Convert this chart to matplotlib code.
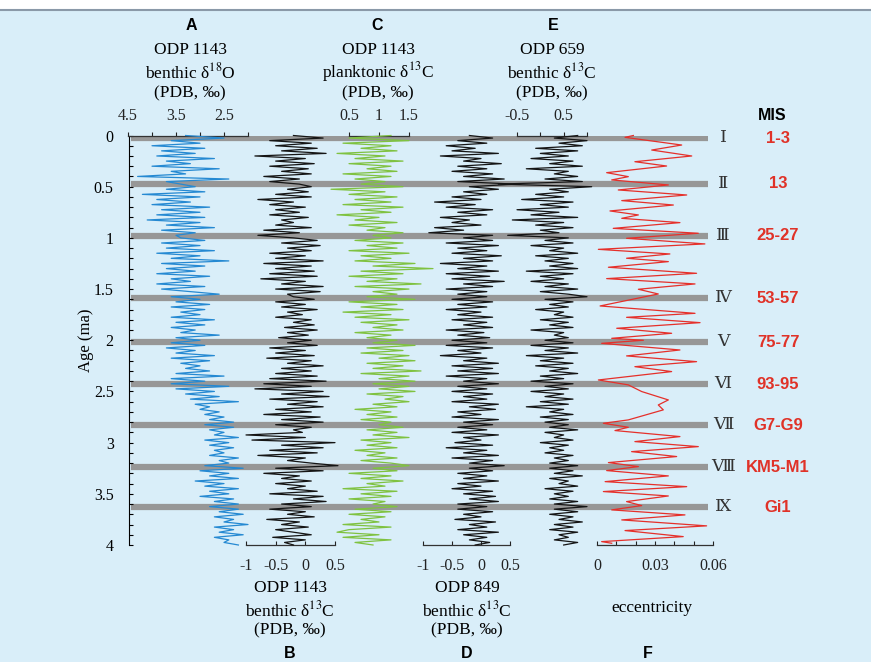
import numpy as np
import matplotlib
matplotlib.use("Agg")
import matplotlib.pyplot as plt
from matplotlib.ticker import FixedLocator, MultipleLocator

plt.rcParams['font.family'] = ['Liberation Serif', 'DejaVu Serif']
plt.rcParams['mathtext.fontset'] = 'stix'

# ---- data (0.025 Ma steps for the isotope records) ----
d18o_1143 = [3.3, 2.5, 3.6, 3.0, 4.0, 2.9, 3.8, 3.1, 3.9, 2.7, 3.7, 3.2, 4.0, 2.6, 3.6, 3.3, 4.3, 2.4, 3.7,
             3.4, 3.1, 3.7, 2.9, 4.2, 3.0, 3.9, 3.2, 4.0, 2.8, 3.8, 3.0, 3.9, 2.9, 4.1, 3.0, 3.7, 2.7, 3.8, 3.1, 3.5,
             3.4, 2.9, 3.8, 3.0, 3.7, 2.7, 3.9, 3.0, 3.6, 2.4, 3.8, 2.9, 3.7, 3.1, 3.9, 2.8, 3.6, 3.2, 3.9, 2.9, 3.8, 3.2, 2.6,
             3.6, 3.0, 3.5, 2.8, 3.6, 2.9, 3.4, 3.0, 3.6, 2.7, 3.5, 2.9, 3.6, 3.1, 3.4, 2.6, 3.5, 3.0,
             3.6, 2.9, 3.7, 3.1, 3.5, 2.7, 3.6, 2.8, 3.4, 3.0, 3.3, 2.8, 3.5, 2.5, 3.6, 2.9,
             3.6, 2.4, 3.5, 2.7, 3.3, 2.6, 3.2, 2.2, 3.1, 2.8, 3.0, 2.6, 2.9, 2.5, 2.8, 2.3,
             2.9, 2.3, 2.8, 2.5, 2.7, 2.2, 2.9, 2.4, 2.8, 2.3, 2.7, 2.5, 2.8, 2.2, 2.6, 2.4,
             2.9, 2.1, 3.0, 2.4, 2.8, 2.2, 3.1, 2.5, 2.9, 2.2, 2.8, 2.4, 3.0, 2.3, 2.7, 2.2,
             2.8, 2.2, 2.6, 2.1, 2.7, 2.3, 2.5, 2.0, 2.7, 2.3, 2.6, 2.1, 2.7, 2.4, 2.5, 2.2]

d13c_1143_b = [-0.2, 0.3, -0.6, 0.1, -0.5, 0.2, -0.4, 0.35, -0.85, 0.0, -0.5, 0.15, -0.6, 0.05, -0.4, 0.1, -0.7, -0.1, -0.6,
               -0.1, 0.1, -0.3, 0.05, -0.5, 0.1, -0.8, -0.2, -0.6, 0.0, -0.5, -0.1, -0.6, 0.05, -0.4, -0.2, -0.5, 0.1, -0.7, -0.1, -0.8,
               -0.2, 0.2, -0.4, 0.25, -0.3, 0.1, -0.6, 0.0, -0.5, 0.3, -0.7, 0.1, -0.5, 0.15, -0.6, 0.2, -0.75, 0.0, -0.4, 0.3, -0.5, 0.25, -0.3,
               -0.2, 0.15, -0.5, 0.0, -0.4, 0.2, -0.3, -0.05, -0.5, 0.1, -0.2, 0.15, -0.35, 0.2, -0.3, 0.05, -0.45, 0.1,
               -0.3, 0.2, -0.6, 0.0, -0.5, 0.15, -0.65, 0.1, -0.3, 0.3, -0.4, 0.1, -0.5, 0.2, -0.6, 0.35,
               -0.7, 0.1, -0.85, 0.3, -0.4, 0.4, -0.6, 0.2, -0.3, 0.3, -0.5, 0.1, -0.7, 0.25, -0.4, 0.3,
               -0.5, 0.1, -0.2, -0.05, -1.0, 0.0, -0.9, 0.5, -0.4, 0.3, -0.6, 0.2, -0.8, 0.0, -0.3, 0.1,
               0.55, -0.5, 0.3, -0.7, -0.1, -0.4, 0.1, -0.5, 0.0, -0.3, 0.2, -0.6, 0.3, -0.2, 0.35, -0.4,
               0.1, -0.6, 0.0, -0.3, 0.15, -0.65, -0.1, -0.4, 0.05, -0.5, -0.2, 0.1, -0.55, 0.0, -0.35, -0.2]

d13c_1143_p = [1.2, 0.5, 1.5, 0.4, 1.2, 0.7, 1.3, 0.3, 1.1, 0.6, 1.4, 0.5, 1.2, 0.8, 1.3, 0.4, 1.2, 0.6, 1.1,
               0.7, 1.4, 0.2, 1.1, 0.5, 1.3, 0.6, 1.2, 0.4, 1.4, 0.7, 1.2, 0.3, 1.0, 0.6, 1.3, 0.5, 1.1, 0.8, 1.4, 0.9,
               1.2, 0.6, 1.4, 0.8, 1.3, 0.5, 1.5, 0.7, 1.2, 0.6, 1.6, 0.9, 1.9, 0.7, 1.4, 0.5, 1.3, 0.8, 1.7, 0.6, 1.5, 0.9, 1.3,
               0.8, 1.6, 0.5, 1.3, 0.7, 1.4, 0.4, 1.2, 0.6, 1.5, 0.7, 1.3, 0.9, 1.4, 0.6, 1.2, 0.8, 1.3,
               0.9, 1.6, 0.8, 1.4, 0.7, 1.5, 1.0, 1.6, 0.8, 1.4, 0.9, 1.7, 0.7, 1.5, 1.0, 1.6,
               0.9, 1.5, 1.0, 1.6, 0.8, 1.4, 1.1, 1.5, 0.9, 1.3, 0.6, 1.2, 0.8, 1.3, 0.7, 1.2,
               1.0, 1.4, 0.8, 1.3, 0.9, 1.5, 0.7, 1.2, 0.8, 1.3, 0.6, 1.1, 0.8, 1.3, 0.7, 1.2,
               1.5, 0.9, 1.3, 0.5, 1.2, 0.7, 1.4, 0.8, 1.1, 0.4, 1.3, 0.7, 1.2, 0.5, 1.1, 0.9,
               1.3, 0.6, 1.2, 0.5, 1.1, 0.7, 1.0, 0.4, 1.2, 0.5, 0.3, 1.0, 0.4, 1.2, 0.6, 0.9]

d13c_849 = [-0.2, 0.2, -0.4, 0.1, -0.6, -0.1, -0.5, 0.3, -0.7, 0.0, -0.3, 0.35, -0.4, 0.1, -0.5, 0.2, -0.3, 0.4, -0.4,
            0.6, -0.2, 0.3, -0.3, 0.1, -0.5, 0.0, -0.8, -0.1, -0.6, 0.2, -0.4, 0.1, -0.7, -0.2, -0.5, 0.0, -0.8, -0.3, -0.9, 0.2,
            -0.3, 0.2, -0.6, 0.3, -0.4, 0.1, -0.5, 0.35, -0.3, 0.2, -0.7, 0.1, -0.4, 0.3, -0.6, 0.15, -0.5, 0.4, -0.3, 0.2, -0.6, 0.1, -0.4,
            0.1, -0.5, 0.2, -0.4, 0.1, -0.6, 0.0, -0.4, 0.2, -0.5, 0.1, -0.3, 0.2, -0.6, 0.05, -0.4, 0.15, -0.5,
            0.1, -0.6, 0.2, -0.4, 0.0, -0.7, 0.1, -0.3, 0.3, -0.5, 0.2, -0.4, 0.3, -0.6, 0.1, -0.3,
            0.3, -0.4, 0.1, -0.5, 0.2, -0.3, 0.1, -0.5, 0.3, -0.2, 0.25, -0.4, 0.0, -0.5, 0.3, -0.3,
            0.2, -0.4, 0.1, -0.5, 0.3, -0.3, 0.0, -0.45, 0.2, -0.6, 0.1, -0.3, 0.3, -0.5, 0.2, -0.2,
            0.4, -0.2, 0.2, -0.4, 0.1, -0.3, 0.3, -0.4, 0.0, -0.5, 0.2, -0.3, 0.25, -0.2, 0.3, -0.4,
            0.1, -0.4, 0.2, -0.3, 0.0, -0.45, 0.25, -0.2, 0.1, -0.4, 0.3, -0.3, 0.1, -0.2, 0.15, -0.1]

d13c_659 = [0.8, 0.3, 1.0, 0.4, 0.9, -0.1, 0.8, 0.0, 0.6, -0.2, 0.7, 0.2, 0.9, -0.3, 0.6, 0.3, 0.8, 0.1, 0.9,
            -0.9, 1.1, 0.2, 0.6, -0.1, 0.5, -0.4, 0.7, 0.0, 0.6, -0.5, 0.4, -0.2, 0.8, -0.6, 0.5, -0.1, 0.7, 0.0, 0.4, -0.7,
            0.6, 0.1, 0.7, -0.2, 0.5, 0.2, 0.8, -0.1, 0.6, 0.1, 0.7, 0.2, 0.8, -0.3, 0.7, 0.0, 0.5, -0.2, 0.6, 0.1, 0.8, 0.0, 0.6,
            1.0, 0.1, 0.7, 0.2, 0.6, -0.1, 0.5, 0.3, 0.7, 0.0, 0.6, 0.2, 0.7, -0.2, 0.5, 0.3, 0.6, 0.1,
            0.7, -0.2, 0.6, 0.1, 0.8, -0.3, 0.5, 0.0, 0.7, -0.1, 0.6, 0.2, 0.8, 0.0, 0.5, -0.2,
            0.7, 0.1, 0.6, -0.2, 0.5, 0.1, 0.7, 0.0, 0.6, -0.3, 0.5, 0.2, 0.7, 0.0, 0.6, 0.1,
            0.6, 0.2, 0.8, 0.1, 0.5, 0.3, 0.7, 0.0, 0.6, 0.2, 0.5, 0.1, 0.7, 0.3, 0.6, 0.2,
            0.8, 0.2, 0.7, 0.3, 0.9, 0.2, 0.6, 0.4, 0.8, 0.1, 0.7, 0.3, 0.6, 0.2, 0.8, 0.3,
            1.0, 0.3, 0.8, 0.2, 0.7, 0.4, 0.9, 0.3, 0.7, 0.2, 0.8, 0.4, 0.6, 0.3, 0.8, 0.5]

ecc_age = [0.0, 0.018, 0.093, 0.142, 0.2, 0.256, 0.298, 0.363, 0.402, 0.434, 0.483, 0.532, 0.581, 0.636,
           0.679, 0.737, 0.776, 0.809, 0.851, 0.907, 0.955, 1.004, 1.059, 1.112, 1.157, 1.199, 1.232, 1.287,
           1.346, 1.398, 1.45, 1.502, 1.548, 1.665, 1.737, 1.776, 1.828, 1.883, 1.932, 1.981, 2.0,
           2.03, 2.095, 2.153, 2.209, 2.258, 2.306, 2.388, 2.436, 2.501, 2.583, 2.632, 2.68, 2.778, 2.811,
           2.85, 2.882, 2.941, 2.99, 3.039, 3.088, 3.136, 3.195, 3.234, 3.273, 3.325, 3.381, 3.43, 3.478,
           3.521, 3.576, 3.615, 3.657, 3.706, 3.755, 3.813, 3.859, 3.918, 3.967, 3.983]
ecc = [0.0188, 0.0145, 0.0438, 0.0283, 0.049, 0.0196, 0.036, 0.005, 0.0162, 0.0076, 0.0369, 0.011, 0.0464, 0.0128,
       0.0395, 0.0067, 0.0214, 0.0128, 0.0429, 0.0084, 0.0524, 0.0153, 0.0558, 0.0007, 0.0377, 0.0153, 0.0369, 0.0059,
       0.0515, 0.005, 0.0507, 0.0214, 0.0317, 0.0016, 0.0507, 0.0153, 0.0533, 0.0102, 0.0386, 0.0076, 0.024,
       0.0024, 0.0429, 0.0153, 0.0515, 0.0196, 0.0386, 0.0007, 0.0162, 0.0231, 0.0369, 0.0317, 0.0343, 0.0162, 0.0033,
       0.0162, 0.0093, 0.0429, 0.0196, 0.0524, 0.0179, 0.0412, 0.0059, 0.0214, 0.005, 0.0369, 0.0042, 0.0464, 0.0033,
       0.0369, 0.0153, 0.0231, 0.0076, 0.0455, 0.0128, 0.0567, 0.0145, 0.0446, 0.0024, 0.0076]

bar_age = [0.025, 0.47, 0.98, 1.59, 2.02, 2.43, 2.83, 3.24, 3.63]
roman = ['\u2160', '\u2161', '\u2162', '\u2163', '\u2164', '\u2165', '\u2166', '\u2167', '\u2168']
mis = ['1-3', '13', '25-27', '53-57', '75-77', '93-95', 'G7-G9', 'KM5-M1', 'Gi1']

W, H = 871, 662
Y0, Y1 = 135.5, 545.0
BG = '#d9eef9'


def rect(x0, x1):
    return [x0 / W, 1 - Y1 / H, (x1 - x0) / W, (Y1 - Y0) / H]


def txt(x, y, s, **kw):
    kw.setdefault('ha', 'center')
    kw.setdefault('va', 'center')
    fig.text(x / W, 1 - y / H, s, **kw)


fig = plt.figure(figsize=(W / 100, H / 100), dpi=100)
fig.patch.set_facecolor('white')
fig.patches.append(plt.Rectangle((0, 0), 1, 1 - 10 / H, transform=fig.transFigure,
                                 facecolor=BG, edgecolor='none', zorder=-10))
fig.add_artist(plt.Line2D([0, 1], [1 - 10 / H] * 2, transform=fig.transFigure, color='#8a99a8', lw=1.5))

# base axes: age axis + grey bars
base = fig.add_axes(rect(129, 708))
base.set_facecolor('none')
base.set_xlim(0, 1)
base.set_ylim(4, 0)
for s in ['top', 'right', 'bottom']:
    base.spines[s].set_visible(False)
base.spines['left'].set_bounds(0, 4)
base.set_xticks([])
base.yaxis.set_major_locator(FixedLocator([0, 0.5, 1, 1.5, 2, 2.5, 3, 3.5, 4]))
base.yaxis.set_minor_locator(MultipleLocator(0.1))
base.set_yticklabels(['0', '0.5', '1', '1.5', '2', '2.5', '3', '3.5', '4'])
base.tick_params(axis='y', which='both', direction='in', length=3, width=0.8, labelsize=11.5, pad=11)
base.set_ylabel('Age (ma)', fontsize=12, labelpad=0)
for a in bar_age:
    base.plot([0.004, 1], [a, a], color='#979797', lw=4.5, solid_capstyle='butt', zorder=1)

panels = [
    (128, 248, (4.5, 2.0), d18o_1143, '#2589d2', 'top', [4.5, 4, 3.5, 3, 2.5, 2], ['4.5', '', '3.5', '', '2.5', '']),
    (246, 335, (-1, 0.5), d13c_1143_b, '#151515', 'bottom', [-1, -0.5, 0, 0.5], ['-1', '-0.5', '0', '0.5']),
    (349, 409, (0.5, 1.5), d13c_1143_p, '#7fc241', 'top', [0.5, 1, 1.5], ['0.5', '1', '1.5']),
    (423, 510, (-1, 0.5), d13c_849, '#151515', 'bottom', [-1, -0.5, 0, 0.5], ['-1', '-0.5', '0', '0.5']),
    (517, 587, (-0.5, 1.0), d13c_659, '#151515', 'top', [-0.5, 0, 0.5, 1], ['-0.5', '', '0.5', '']),
    (597, 713, (0, 0.06), ecc, '#e5302b', 'bottom', [0, 0.01, 0.02, 0.03, 0.04, 0.05, 0.06],
     ['0', '', '', '0.03', '', '', '0.06']),
]
for x0, x1, xl, vals, col, side, ticks, labels in panels:
    ax = fig.add_axes(rect(x0, x1))
    ax.set_facecolor('none')
    ax.set_xlim(*xl)
    ax.set_ylim(4, 0)
    yy = ecc_age if vals is ecc else np.linspace(0, 4, len(vals))
    ax.plot(vals, yy, color=col, lw=0.9, clip_on=False, zorder=3)
    for s in ['left', 'right', 'top', 'bottom']:
        ax.spines[s].set_visible(s == side)
    ax.spines[side].set_color('#333333')
    ax.spines[side].set_linewidth(0.9)
    ax.set_yticks([])
    ax.set_xticks(ticks)
    ax.set_xticklabels(labels)
    if side == 'top':
        ax.xaxis.tick_top()
        ax.tick_params(axis='x', direction='out', length=3, width=0.8, labelsize=11.5, pad=5, colors='#222222')
    else:
        ax.tick_params(axis='x', direction='in', length=3, width=0.8, labelsize=11.5, pad=9, colors='#222222')

# headers
bold = dict(family=['Liberation Sans'], fontweight='bold', fontsize=11.5)
txt(191, 26, 'A', **bold)
txt(190, 50, 'ODP 1143', fontsize=12.5)
txt(190, 72, r'benthic δ$^{18}$O', fontsize=12.5)
txt(190, 93, '(PDB, ‰)', fontsize=12.5)
txt(377, 26, 'C', **bold)
txt(378, 50, 'ODP 1143', fontsize=12.5)
txt(378, 72, r'planktonic δ$^{13}$C', fontsize=12.5)
txt(378, 93, '(PDB, ‰)', fontsize=12.5)
txt(553, 26, 'E', **bold)
txt(552, 50, 'ODP 659', fontsize=12.5)
txt(552, 72, r'benthic δ$^{13}$C', fontsize=12.5)
txt(552, 93, '(PDB, ‰)', fontsize=12.5)
txt(772, 116, 'MIS', **bold)

txt(290, 588, 'ODP 1143', fontsize=12.5)
txt(290, 610, r'benthic δ$^{13}$C', fontsize=12.5)
txt(290, 630, '(PDB, ‰)', fontsize=12.5)
txt(290, 653, 'B', **bold)
txt(467, 588, 'ODP 849', fontsize=12.5)
txt(467, 610, r'benthic δ$^{13}$C', fontsize=12.5)
txt(467, 630, '(PDB, ‰)', fontsize=12.5)
txt(467, 653, 'D', **bold)
txt(652, 608, 'eccentricity', fontsize=12.5)
txt(648, 653, 'F', **bold)

for a, r, m in zip(bar_age, roman, mis):
    y = Y0 + a * (Y1 - Y0) / 4
    txt(723, y, r, fontsize=12.5, family=['Liberation Serif', 'DejaVu Serif', 'Noto Sans CJK SC'], color='#333333')
    txt(778, y, m, family=['Liberation Sans'], fontweight='bold', fontsize=12, color='#e03228')

fig.savefig('out.png', dpi=100, facecolor=fig.get_facecolor())
